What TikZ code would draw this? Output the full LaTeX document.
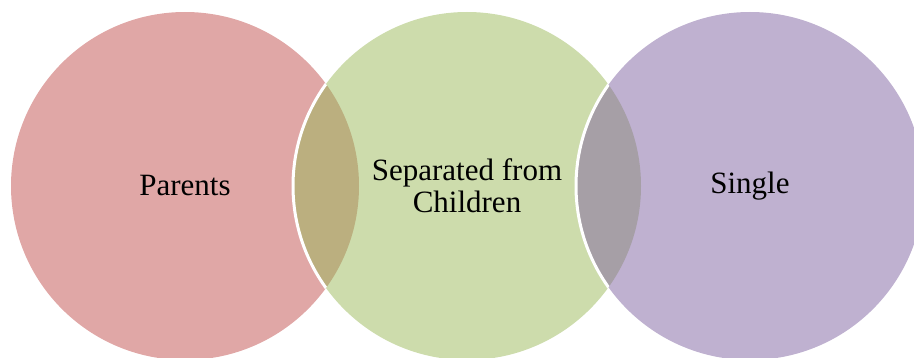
\documentclass[tikz,border=0pt]{standalone}
\usepackage{fontspec}
\setmainfont{Liberation Serif}
\newfontfamily\groupfont{Liberation Serif}
\definecolor{parentpink}{HTML}{E0A7A6}
\definecolor{sepgreen}{HTML}{CDDCAC}
\definecolor{singlepurple}{HTML}{BFB1D0}
\definecolor{lensolive}{HTML}{BBAF7F}
\definecolor{lensgray}{HTML}{A69FA6}
\begin{document}
\begin{tikzpicture}[x=1pt, y=-1pt,
    group/.style={circle, minimum size=348pt, inner sep=0pt, align=center,
        font=\groupfont\fontsize{31}{32}\selectfont}]
    \useasboundingbox (0,0) rectangle (914,358);
    \clip (0,0) rectangle (914,358);
    \node[group, fill=parentpink](parents) at (185,186){Parents};
    \node[group, fill=sepgreen](separated) at (467,186){Separated from\\Children};
    \node[group, fill=singlepurple](single) at (750,186){Single};
    % overlaps
    \begin{scope}
        \clip (parents.center) circle (174);
        \fill[lensolive] (separated.center) circle (174);
        \draw[white, line width=3pt] (separated.center) circle (174);
    \end{scope}
    \begin{scope}
        \clip (separated.center) circle (174);
        \fill[lensgray] (single.center) circle (174);
        \draw[white, line width=3pt] (single.center) circle (174);
    \end{scope}
\end{tikzpicture}
\end{document}
